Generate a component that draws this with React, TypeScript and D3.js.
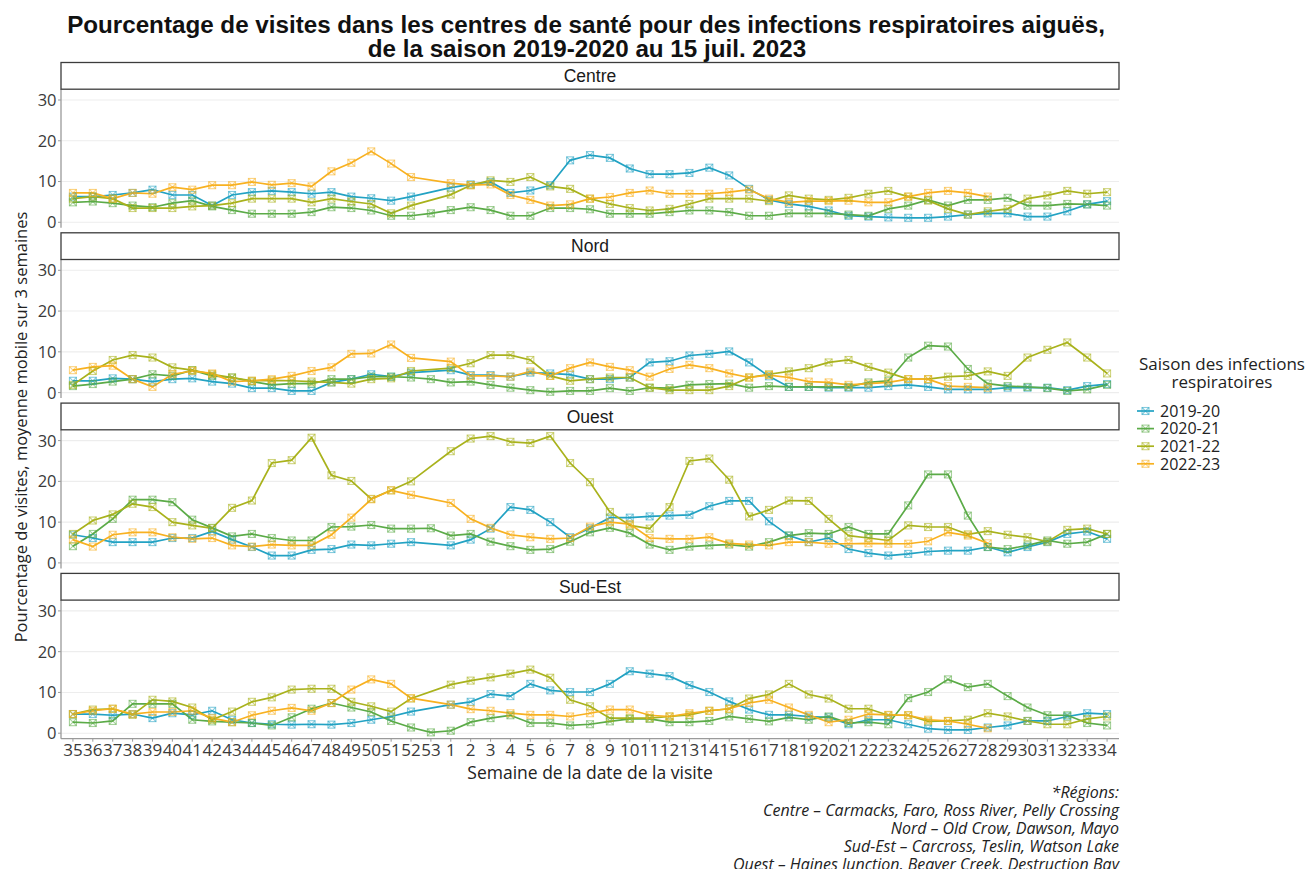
import React from "react";
import * as d3 from "d3";

const WEEKS: string[] = [
  "35","36","37","38","39","40","41","42","43","44","45","46","47","48","49","50","51","52","53",
  "1","2","3","4","5","6","7","8","9","10","11","12","13","14","15","16","17","18","19","20",
  "21","22","23","24","25","26","27","28","29","30","31","32","33","34",
];

const SEASONS = ["2019-20", "2020-21", "2021-22", "2022-23"];
const COLORS = ["#22A2C3", "#5BAB47", "#A9B21C", "#F8B120"];
const REGIONS = ["Centre", "Nord", "Ouest", "Sud-Est"];
const Y_TICKS = [0, 10, 20, 30];

const N = null;

// ---- Centre ----
const centre2019 = [6.3,6.3,6.7,7.2,8.0,6.7,6.7,4.1,6.7,7.4,7.7,7.4,7.0,7.4,6.3,5.9,5.3,6.3,N,
  8.5,9.3,9.9,7.2,7.8,9.1,15.2,16.5,15.8,13.2,11.8,11.8,12.1,13.4,11.5,8.2,5.5,4.5,3.9,2.9,1.6,1.4,1.2,1.1,1.1,1.4,1.9,2.2,2.2,1.4,1.4,2.7,4.4,5.2];
const centre2020 = [4.9,5.1,4.7,4.1,3.7,4.7,5.3,3.9,3.0,2.1,2.1,2.1,2.5,3.7,3.5,2.9,1.6,1.6,2.2,
  3.0,3.7,3.0,1.6,1.6,3.5,3.5,3.2,2.1,2.1,2.1,2.5,2.9,2.9,2.5,1.6,1.6,2.2,2.2,2.2,1.9,1.6,3.3,4.1,5.5,4.1,5.5,5.5,6.0,4.1,4.1,4.5,4.4,4.1];
const centre2021 = [5.8,6.3,5.8,3.5,3.5,3.5,3.9,4.1,4.7,5.8,5.8,5.8,4.9,5.8,5.1,4.5,2.2,4.1,N,
  6.8,9.1,10.3,9.9,11.1,8.8,8.2,5.8,4.5,3.5,2.9,3.3,4.5,5.8,5.8,5.8,5.2,6.6,5.8,5.5,6.0,7.0,7.7,6.3,5.3,3.3,1.9,2.7,3.3,5.8,6.6,7.7,7.0,7.4];
const centre2022 = [7.2,7.2,5.8,7.2,7.0,8.6,8.0,9.1,9.1,9.9,9.2,9.6,8.8,12.5,14.6,17.4,14.4,11.1,N,
  9.6,9.1,9.3,6.7,5.5,4.1,4.4,5.8,6.2,7.2,7.8,7.0,7.0,7.0,7.4,8.0,5.8,4.9,5.2,5.2,5.3,4.9,4.9,6.3,7.2,7.7,7.2,6.3,N,N,N,N,N,N];

// ---- Nord ----
const nord2019 = [2.9,2.9,3.5,3.3,2.7,3.3,3.5,2.7,2.2,1.1,1.1,0.4,0.4,2.5,3.3,4.5,3.9,4.9,N,
  5.5,4.3,4.3,3.9,4.9,4.7,4.4,3.3,3.3,3.7,7.4,7.7,9.1,9.5,10.1,7.4,4.0,1.4,1.4,1.2,1.2,1.2,1.6,1.9,1.4,0.8,0.8,0.8,1.2,1.2,1.2,0.6,1.6,2.1];
const nord2020 = [1.6,2.1,2.7,3.3,4.5,4.1,5.5,4.1,3.7,2.7,1.9,2.2,2.2,3.3,3.3,3.9,3.9,3.7,3.3,
  2.5,2.7,1.9,1.2,0.6,0.2,0.4,0.4,1.1,0.4,1.2,1.1,1.9,2.1,2.2,1.2,1.6,1.4,1.4,1.4,1.4,2.5,2.9,8.6,11.5,11.3,5.8,2.2,1.6,1.4,1.1,0.4,0.8,1.9];
const nord2021 = [1.9,5.3,8.0,9.2,8.6,6.2,5.5,4.5,3.7,2.9,3.0,2.9,2.7,2.5,2.2,3.3,3.5,5.3,N,
  6.0,7.2,9.2,9.2,8.0,4.1,2.9,3.3,3.7,3.7,1.2,0.6,0.6,0.6,1.6,3.7,4.5,5.2,6.0,7.4,8.0,6.3,4.9,3.3,3.3,3.9,4.1,5.2,4.1,8.6,10.5,12.3,8.6,4.7];
const nord2022 = [5.5,6.3,6.6,3.3,1.4,4.5,5.3,4.7,2.7,2.9,3.3,4.1,5.3,6.2,9.5,9.6,11.8,8.5,N,
  7.6,4.1,4.1,3.9,5.2,4.1,6.0,7.4,6.3,5.5,3.9,5.8,6.8,6.0,4.7,3.7,4.3,3.7,2.7,2.5,1.9,2.2,2.5,3.3,3.3,1.6,1.4,1.2,N,N,N,N,N,N];

// ---- Ouest ----
const ouest2019 = [6.9,6.1,5.1,5.1,5.1,6.1,6.1,7.7,5.7,3.9,1.8,1.8,3.2,3.4,4.5,4.3,4.7,5.1,N,
  4.3,5.7,8.4,13.7,13.0,10.0,6.3,8.5,11.1,11.1,11.4,11.6,11.8,13.9,15.2,15.2,10.2,6.7,5.1,6.1,3.4,2.4,1.8,2.2,2.8,3.0,3.0,3.9,2.6,3.9,5.1,7.1,7.7,5.9];
const ouest2020 = [4.1,7.1,10.8,15.5,15.5,14.9,10.6,8.6,6.5,7.1,6.1,5.5,5.5,8.8,8.9,9.3,8.4,8.4,8.5,
  6.7,7.1,5.2,4.1,3.2,3.4,5.2,7.5,8.6,7.3,4.5,3.2,4.0,4.3,4.5,4.0,5.1,6.7,7.3,7.1,8.8,7.1,7.1,14.1,21.7,21.7,11.6,3.9,3.4,4.3,5.5,4.7,5.1,7.1];
const ouest2021 = [7.1,10.4,11.9,14.5,13.7,10.0,9.2,8.5,13.5,15.3,24.5,25.2,30.7,21.5,20.1,15.7,17.8,20.0,N,
  27.4,30.5,31.1,29.7,29.4,31.1,24.5,19.8,12.5,9.2,8.4,13.7,25.0,25.6,20.4,11.4,13.0,15.3,15.2,10.8,6.7,6.1,5.5,9.2,8.8,8.8,7.0,7.8,6.9,6.3,5.2,8.1,8.4,7.1];
const ouest2022 = [5.7,4.0,6.9,7.5,7.5,6.3,5.9,6.1,4.3,4.0,4.5,4.3,4.3,6.9,11.1,15.6,17.8,16.7,N,
  14.7,10.8,8.6,6.9,6.3,5.9,6.1,8.9,10.0,9.5,6.1,5.9,5.9,6.3,4.8,4.5,4.3,5.1,5.1,4.7,4.7,4.8,4.7,4.7,5.3,7.5,6.7,4.8,N,N,N,N,N,N];

// ---- Sud-Est ----
const sudest2019 = [4.7,4.7,4.4,4.7,3.7,4.9,4.5,5.5,3.3,2.5,2.2,2.1,2.2,2.1,2.5,3.3,4.1,5.3,N,
  7.0,7.7,9.6,9.1,12.1,10.5,10.1,10.1,12.1,15.2,14.6,14.0,11.8,10.1,7.8,5.8,4.5,4.5,4.1,3.9,2.2,3.3,3.3,2.2,1.1,0.8,0.8,1.4,1.9,3.0,3.0,4.1,4.9,4.7];
const sudest2020 = [2.7,2.5,3.0,7.2,7.2,7.2,3.3,2.9,2.7,2.5,1.9,3.9,6.0,7.4,6.3,5.2,3.0,1.4,0.2,
  0.6,2.7,3.7,4.4,2.5,2.5,1.9,2.2,2.9,3.5,3.5,2.7,2.7,3.0,4.1,3.5,2.9,3.9,3.3,4.1,2.5,2.7,2.2,8.6,10.1,13.2,11.3,12.1,9.1,6.3,4.4,4.4,2.5,1.9];
const sudest2021 = [4.7,5.8,6.0,4.5,8.2,7.8,6.3,3.3,5.3,7.7,8.8,10.7,10.9,10.9,7.7,6.6,5.3,8.5,N,
  11.9,12.9,13.7,14.6,15.6,13.6,8.2,6.6,3.7,3.7,3.7,4.1,4.5,5.5,6.0,8.5,9.5,12.1,9.5,8.5,6.0,6.0,4.4,4.4,2.9,3.0,3.3,4.9,4.1,3.0,2.2,2.2,3.5,4.1];
const sudest2022 = [4.7,5.5,6.0,4.7,5.2,5.2,5.5,3.7,2.7,4.4,5.5,6.2,5.5,7.4,10.7,13.2,12.1,8.6,N,
  7.0,5.9,5.5,4.9,4.5,4.5,4.1,4.9,5.8,5.8,4.4,4.1,4.9,5.5,6.0,7.4,8.2,6.3,4.5,2.7,3.3,4.7,4.5,4.4,3.3,3.0,2.2,1.2,N,N,N,N,N,N];

const REGION_DATA: (number | null)[][][] = [
  [centre2019, centre2020, centre2021, centre2022],
  [nord2019, nord2020, nord2021, nord2022],
  [ouest2019, ouest2020, ouest2021, ouest2022],
  [sudest2019, sudest2020, sudest2021, sudest2022],
];

const FOOTNOTE = [
  "*Régions:",
  "Centre – Carmacks, Faro, Ross River, Pelly Crossing",
  "Nord – Old Crow, Dawson, Mayo",
  "Sud-Est – Carcross, Teslin, Watson Lake",
  "Ouest – Haines Junction, Beaver Creek, Destruction Bay",
];

const W = 1312;
const H = 869;
const PL = 61;
const PR = 1119;
const STRIP_TOP0 = 62.5;
const PERIOD = 170.3;
const STRIP_H = 26.7;
const PANEL_H = 138.6;

const AXIS_FONT = "'Open Sans', 'Noto Sans', sans-serif";
const TITLE_FONT = "'Liberation Sans', Arial, sans-serif";

function Marker({ x, y, color, s = 3.5 }: { x: number; y: number; color: string; s?: number }) {
  return (
    <g stroke={color} strokeOpacity={0.55} fill="none" strokeWidth={1.1}>
      <rect x={x - s} y={y - s} width={2 * s} height={2 * s} />
      <line x1={x - s} y1={y - s} x2={x + s} y2={y + s} />
      <line x1={x - s} y1={y + s} x2={x + s} y2={y - s} />
    </g>
  );
}

export default function App() {
  const x = d3.scalePoint<string>().domain(WEEKS).range([PL, PR]).padding(0.6);

  const panels = REGIONS.map((region, ri) => {
    const stripTop = STRIP_TOP0 + ri * PERIOD;
    const pTop = stripTop + STRIP_H;
    const pBot = pTop + PANEL_H;
    const y = d3.scaleLinear().domain([-1.35, 32.65]).range([pBot, pTop]);
    const series = REGION_DATA[ri].map((vals) =>
      vals
        .map((v, i) => ({ w: WEEKS[i], v }))
        .filter((d) => d.v !== null) as { w: string; v: number }[]
    );
    const line = d3
      .line<{ w: string; v: number }>()
      .x((d) => x(d.w) as number)
      .y((d) => y(d.v));
    return (
      <g key={region}>
        <rect x={PL} y={pTop} width={PR - PL} height={PANEL_H} fill="#ffffff" />
        {Y_TICKS.map((t) => (
          <line key={t} x1={PL} x2={PR} y1={y(t)} y2={y(t)} stroke="#EDEDED" strokeWidth={1.1} />
        ))}
        {series.map((s, si) => (
          <path key={si} d={line(s) || ""} fill="none" stroke={COLORS[si]} strokeWidth={1.7} />
        ))}
        {series.map((s, si) => (
          <g key={"m" + si}>
            {s.map((d, k) => (
              <Marker key={k} x={x(d.w) as number} y={y(d.v)} color={COLORS[si]} />
            ))}
          </g>
        ))}
        <line x1={PL} x2={PL} y1={pTop} y2={pBot} stroke="#9A9A9A" strokeWidth={1.3} />
        {Y_TICKS.map((t) => (
          <g key={"t" + t}>
            <line x1={PL - 3} x2={PL} y1={y(t)} y2={y(t)} stroke="#9A9A9A" strokeWidth={1} />
            <text
              x={PL - 4.5}
              y={y(t)}
              dy="0.36em"
              textAnchor="end"
              fontFamily={AXIS_FONT}
              fontSize={16.5}
              fill="#3A3A3A"
            >
              {t}
            </text>
          </g>
        ))}
        <rect x={PL} y={stripTop} width={PR - PL} height={STRIP_H} fill="#ffffff" stroke="#3C3C3C" strokeWidth={1.3} />
        <text
          x={(PL + PR) / 2}
          y={stripTop + STRIP_H / 2}
          dy="0.36em"
          textAnchor="middle"
          fontFamily={TITLE_FONT}
          fontSize={17.5}
          fill="#1A1A1A"
        >
          {region}
        </text>
        {ri === REGIONS.length - 1 && (
          <g>
            <line x1={PL} x2={PR} y1={pBot} y2={pBot} stroke="#9A9A9A" strokeWidth={1.3} />
            {WEEKS.map((w) => (
              <g key={w}>
                <line x1={x(w) as number} x2={x(w) as number} y1={pBot} y2={pBot + 3} stroke="#9A9A9A" strokeWidth={1} />
                <text
                  x={x(w) as number}
                  y={pBot + 17.5}
                  textAnchor="middle"
                  fontFamily={AXIS_FONT}
                  fontSize={17}
                  fill="#3A3A3A"
                >
                  {w}
                </text>
              </g>
            ))}
          </g>
        )}
      </g>
    );
  });

  const legendX = 1137;
  const legendY0 = 411;
  const legendStep = 17.6;

  return (
    <svg
      width={W}
      height={H}
      style={{ position: "absolute", left: 0, top: 0, background: "#ffffff" }}
    >
      <rect x={0} y={0} width={W} height={H} fill="#ffffff" />
      <text x={586} y={33} textAnchor="middle" fontFamily={TITLE_FONT} fontWeight="bold" fontSize={24.2} fill="#111">
        Pourcentage de visites dans les centres de santé pour des infections respiratoires aiguës,
      </text>
      <text x={587} y={56.5} textAnchor="middle" fontFamily={TITLE_FONT} fontWeight="bold" fontSize={24.2} fill="#111">
        de la saison 2019-2020 au 15 juil. 2023
      </text>
      {panels}
      <text
        transform={`translate(27, 427) rotate(-90)`}
        textAnchor="middle"
        fontFamily={AXIS_FONT}
        fontSize={16.5}
        fill="#222"
      >
        Pourcentage de visites, moyenne mobile sur 3 semaines
      </text>
      <text x={590} y={779} textAnchor="middle" fontFamily={AXIS_FONT} fontSize={17.5} fill="#222">
        Semaine de la date de la visite
      </text>
      <text x={1222} y={370} textAnchor="middle" fontFamily={AXIS_FONT} fontSize={17} fill="#222">
        Saison des infections
      </text>
      <text x={1222} y={388} textAnchor="middle" fontFamily={AXIS_FONT} fontSize={17} fill="#222">
        respiratoires
      </text>
      {SEASONS.map((s, i) => {
        const yy = legendY0 + i * legendStep;
        return (
          <g key={s}>
            <line x1={legendX} x2={legendX + 17} y1={yy} y2={yy} stroke={COLORS[i]} strokeWidth={1.7} />
            <Marker x={legendX + 8.5} y={yy} color={COLORS[i]} />
            <text x={legendX + 23} y={yy} dy="0.36em" fontFamily={AXIS_FONT} fontSize={16} fill="#222">
              {s}
            </text>
          </g>
        );
      })}
      {FOOTNOTE.map((t, i) => (
        <text
          key={i}
          x={PR}
          y={798 + i * 18}
          textAnchor="end"
          fontFamily={AXIS_FONT}
          fontStyle="italic"
          fontSize={16}
          fill="#222"
        >
          {t}
        </text>
      ))}
    </svg>
  );
}
